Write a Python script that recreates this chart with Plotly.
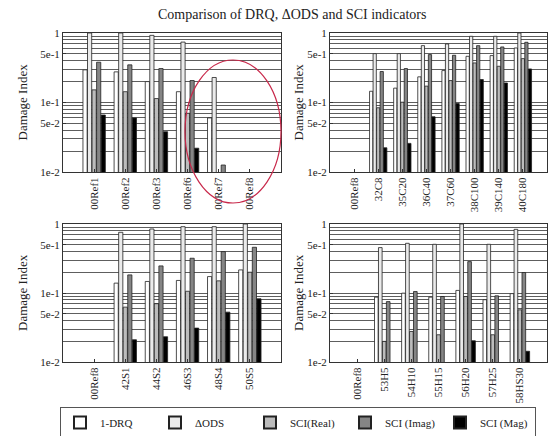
import plotly.graph_objects as go
from plotly.subplots import make_subplots

series_names = ["1-DRQ", "ΔODS", "SCI(Real)", "SCI (Imag)", "SCI (Mag)"]
series_colors = ["#ffffff", "#ebebeb", "#bcbcbc", "#858585", "#000000"]

# Panel 1 (top-left)
cats_tl = ["00Ref1", "00Ref2", "00Ref3", "00Ref6", "00Ref7", "00Ref8"]
drq_tl = [0.295, 0.276, 0.20, 0.143, 0.060, None]
ods_tl = [1.0, 1.0, 0.925, 0.74, 0.229, None]
real_tl = [0.152, 0.143, 0.114, 0.070, None, None]
imag_tl = [0.38, 0.348, 0.308, 0.207, 0.0126, None]
mag_tl = [0.066, 0.060, 0.038, 0.022, None, None]

# Panel 2 (top-right)
cats_tr = ["00Ref8", "32C8", "35C20", "36C40", "37C60", "38C100", "39C140", "40C180"]
drq_tr = [None, 0.145, 0.161, 0.234, 0.288, 0.462, 0.473, 0.609]
ods_tr = [None, 0.505, 0.505, 0.658, 0.695, 0.896, 0.896, 1.0]
real_tr = [None, 0.084, 0.101, 0.172, 0.207, 0.371, 0.332, 0.428]
imag_tr = [None, 0.279, 0.308, 0.489, 0.478, 0.658, 0.63, 0.735]
mag_tr = [None, 0.0223, 0.0258, 0.0623, 0.0968, 0.214, 0.191, 0.304]

# Panel 3 (bottom-left)
cats_bl = ["00Ref8", "42S1", "44S2", "46S3", "48S4", "50S5"]
drq_bl = [None, 0.139, 0.147, 0.152, 0.173, 0.216]
ods_bl = [None, 0.758, 0.847, 0.915, 0.915, 1.0]
real_bl = [None, 0.0624, 0.070, 0.106, 0.150, 0.20]
imag_bl = [None, 0.183, 0.247, 0.319, 0.398, 0.46]
mag_bl = [None, 0.021, 0.0232, 0.031, 0.0528, 0.0824]

# Panel 4 (bottom-right)
cats_br = ["00Ref8", "53H5", "54H10", "55H15", "56H20", "57H25", "58HS30"]
drq_br = [None, 0.087, 0.0995, 0.087, 0.109, 0.080, 0.098]
ods_br = [None, 0.455, 0.525, 0.508, 1.0, 0.508, 0.837]
real_br = [None, 0.0199, 0.0277, 0.0248, 0.089, 0.0248, 0.057]
imag_br = [None, 0.075, 0.105, 0.089, 0.285, 0.091, 0.198]
mag_br = [None, None, None, None, 0.0203, None, 0.0143]

y_tickvals = [0.01, 0.05, 0.1, 0.5, 1]
y_ticktext = ["1e-2", "5e-2", "1e-1", "5e-1", "1"]
y_minor = [0.02, 0.03, 0.04, 0.06, 0.07, 0.08, 0.09, 0.2, 0.3, 0.4, 0.6, 0.7, 0.8, 0.9]

panels = [
    (1, 1, cats_tl, [drq_tl, ods_tl, real_tl, imag_tl, mag_tl]),
    (1, 2, cats_tr, [drq_tr, ods_tr, real_tr, imag_tr, mag_tr]),
    (2, 1, cats_bl, [drq_bl, ods_bl, real_bl, imag_bl, mag_bl]),
    (2, 2, cats_br, [drq_br, ods_br, real_br, imag_br, mag_br]),
]

FONT = "Liberation Serif"
W, H = 554, 436

fig = make_subplots(rows=2, cols=2)

for i, (r, c, cats, vals) in enumerate(panels):
    for k, (name, col, v) in enumerate(zip(series_names, series_colors, vals)):
        fig.add_trace(
            go.Bar(
                x=cats, y=v, name=name, legendgroup=name,
                showlegend=(i == 0),
                marker=dict(color=col, line=dict(color="#222222", width=0.8)),
            ),
            row=r, col=c,
        )
    fig.update_xaxes(
        type="category", categoryorder="array", categoryarray=cats,
        range=[-1, len(cats)], tickangle=-90, automargin=False,
        showline=True, linecolor="#333333", linewidth=1, mirror=True,
        ticks="inside", ticklen=3, tickcolor="#333333",
        showgrid=False,
        tickfont=dict(family=FONT, size=11, color="#222222"),
        row=r, col=c,
    )
    fig.update_yaxes(
        type="log", range=[-2, 0], automargin=False,
        tickvals=y_tickvals, ticktext=y_ticktext,
        showline=True, linecolor="#333333", linewidth=1, mirror=True,
        ticks="inside", ticklen=3, tickcolor="#333333",
        showgrid=True, gridcolor="#5e5e5e", gridwidth=0.8,
        minor=dict(tickmode="array", tickvals=y_minor, showgrid=True,
                   gridcolor="#5e5e5e", gridwidth=0.8, ticks=""),
        zeroline=False,
        tickfont=dict(family=FONT, size=11, color="#222222"),
        row=r, col=c,
    )

# domains (pixel-derived)
xl = [63 / W, 281 / W]
xr = [330 / W, 547 / W]
yt = [1 - 172 / H, 1 - 33 / H]
yb = [1 - 362 / H, 1 - 224 / H]
fig.update_layout(
    xaxis=dict(domain=xl), yaxis=dict(domain=yt),
    xaxis2=dict(domain=xr), yaxis2=dict(domain=yt),
    xaxis3=dict(domain=xl), yaxis3=dict(domain=yb),
    xaxis4=dict(domain=xr), yaxis4=dict(domain=yb),
)

annotations = [
    dict(text="Comparison of DRQ, ΔODS and SCI indicators", x=292 / W, y=1 - 15 / H,
         xref="paper", yref="paper", showarrow=False, xanchor="center", yanchor="middle",
         font=dict(family=FONT, size=14, color="#222222")),
]
for xpix, ydom in [(22, yt), (298, yt), (22, yb), (298, yb)]:
    annotations.append(dict(
        text="Damage Index", x=xpix / W, y=(ydom[0] + ydom[1]) / 2,
        xref="paper", yref="paper", showarrow=False, textangle=-90,
        xanchor="center", yanchor="middle",
        font=dict(family=FONT, size=13, color="#222222")))

fig.update_layout(
    width=W, height=H,
    margin=dict(l=0, r=0, t=0, b=0, autoexpand=False),
    paper_bgcolor="white", plot_bgcolor="white",
    barmode="group", bargap=0.27, bargroupgap=0.08,
    annotations=annotations,
    shapes=[dict(type="circle", xref="paper", yref="paper",
                 x0=185 / W, x1=281 / W, y0=1 - 203 / H, y1=1 - 60 / H,
                 line=dict(color="#c8284a", width=1.2))],
    legend=dict(orientation="h", x=60 / W, y=1 - 407 / H, xanchor="left", yanchor="top",
                bordercolor="#555555", borderwidth=1, bgcolor="white",
                entrywidth=50, itemsizing="constant",
                font=dict(family=FONT, size=11, color="#222222")),
    font=dict(family=FONT),
)

fig.write_html("out.html", config={"displayModeBar": False},
               post_script="document.body.style.margin='0';")
